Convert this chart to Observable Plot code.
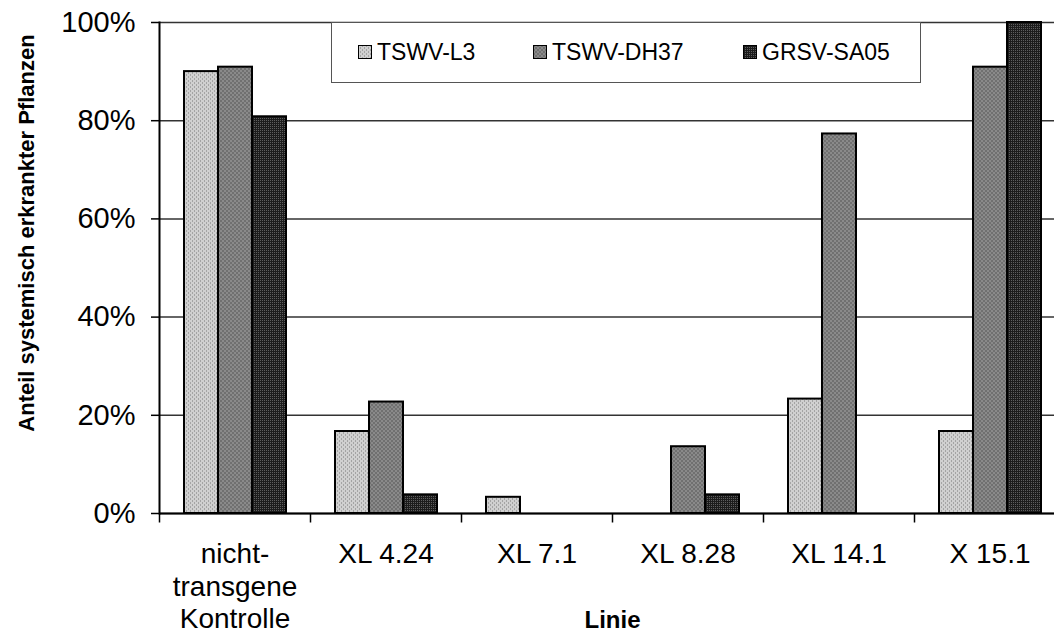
<!DOCTYPE html>
<html>
<head>
<meta charset="utf-8">
<script src="https://cdn.jsdelivr.net/npm/d3@7"></script>
<script src="https://cdn.jsdelivr.net/npm/@observablehq/plot@0.6"></script>
<style>
  body { margin: 0; background: #fff; font-family: "Liberation Sans", Arial, sans-serif; }
  #wrap { position: relative; width: 1054px; height: 635px; overflow: hidden; }
  #legend { position: absolute; left: 331px; top: 22px; width: 590px; height: 61px; box-sizing: border-box;
            border: 1.5px solid #555; background: #fff; }
  .item { position: absolute; top: 0; height: 58px; display: flex; align-items: center; font-size: 23px; color: #000; }
  .item svg { margin-right: 5px; }
</style>
</head>
<body>
<svg width="0" height="0" style="position:absolute">
  <defs>
    <pattern id="p0" width="4" height="4" patternUnits="userSpaceOnUse">
      <rect width="4" height="4" fill="#d0d0d0"/>
      <rect x="0" y="0" width="1" height="2" fill="#a4a4a4"/>
      <rect x="2" y="2" width="1" height="2" fill="#a4a4a4"/>
    </pattern>
    <pattern id="p1" width="4" height="4" patternUnits="userSpaceOnUse">
      <rect width="4" height="4" fill="#8a8a8a"/>
      <rect x="0" y="0" width="2" height="2" fill="#707070"/>
      <rect x="2" y="2" width="2" height="2" fill="#707070"/>
    </pattern>
    <pattern id="p2" width="2" height="2" patternUnits="userSpaceOnUse">
      <rect width="2" height="2" fill="#1c1c1c"/>
      <rect x="0" y="0" width="1" height="1" fill="#5e5e5e"/>
    </pattern>
  </defs>
</svg>
<div id="wrap">
  <div id="chart"></div>
  <div id="legend"></div>
</div>
<script>
const categories = ["nicht-\ntransgene\nKontrolle", "XL 4.24", "XL 7.1", "XL 8.28", "XL 14.1", "X 15.1"];
const series = ["TSWV-L3", "TSWV-DH37", "GRSV-SA05"];
const valuesL3   = [90.0, 16.7, 3.3, 0.0, 23.3, 16.7];
const valuesDH37 = [90.9, 22.7, 0.0, 13.6, 77.3, 90.9];
const valuesSA05 = [80.8, 3.8, 0.0, 3.8, 0.0, 100.0];
const yTicks = [0, 20, 40, 60, 80, 100];
const yTitle = "Anteil systemisch erkrankter Pflanzen";
const xTitle = "Linie";

const seriesValues = [valuesL3, valuesDH37, valuesSA05];
const patterns = ["url(#p0)", "url(#p1)", "url(#p2)"];
const rows = series.flatMap((s, si) => categories.map((c, ci) => ({category: c, series: s, value: seriesValues[si][ci]})));

const tickSymbol = { draw(ctx) { ctx.moveTo(0, 0); ctx.lineTo(0, 9); } };
const font = "Liberation Sans, Arial, sans-serif";

const chart = Plot.plot({
  width: 1054,
  height: 635,
  marginLeft: 159,
  marginRight: -11,
  marginTop: 22,
  marginBottom: 122,
  style: { fontFamily: font, color: "#000", background: "#fff", overflow: "hidden" },
  fx: { domain: categories, padding: 0 },
  x: { domain: series, paddingInner: 0, paddingOuter: 0.72, axis: null },
  y: { domain: [0, 100] },
  marks: [
    Plot.gridY(yTicks, { stroke: "#333", strokeOpacity: 1, strokeWidth: 1.5 }),
    ...series.map((s, i) => Plot.barY(rows.filter(r => r.series === s && r.value > 0), {
      fx: "category", x: "series", y: "value", fill: patterns[i], stroke: "#000", strokeWidth: 2
    })),
    Plot.ruleY([0], { stroke: "#000", strokeWidth: 2 }),
    Plot.frame({ anchor: "left", facetAnchor: "left", stroke: "#000", strokeWidth: 2 }),
    Plot.axisY({ ticks: yTicks, tickFormat: d => d + "%", tickSize: 8, tickPadding: 16, fontSize: 29, label: null, stroke: "#000", strokeWidth: 1.5 }),
    Plot.dot(categories, { fx: d => d, frameAnchor: "bottom-left", symbol: tickSymbol, fill: "none", stroke: "#000", strokeWidth: 1.5 }),
    Plot.text(categories, { fx: d => d, text: d => d, frameAnchor: "bottom", lineAnchor: "top", dy: 26, fontSize: 28, lineHeight: 1.17, fill: "#000" }),
    Plot.axisFx({ anchor: "bottom", tickSize: 0, tickFormat: () => "", label: xTitle, labelAnchor: "center", labelOffset: 114, fontSize: 24, fontWeight: "bold" }),
    Plot.text([yTitle], { text: d => d, frameAnchor: "left", facetAnchor: "left", textAnchor: "middle", rotate: -90, dx: -133, dy: -35, fontSize: 22, fontWeight: "bold", fill: "#000" })
  ]
});
document.getElementById("chart").appendChild(chart);

const legend = document.getElementById("legend");
const itemLeft = [26, 201, 411];
series.forEach((s, i) => {
  const el = document.createElement("div");
  el.className = "item";
  el.style.left = itemLeft[i] + "px";
  el.innerHTML = `<svg width="14" height="14"><rect x="0.5" y="0.5" width="13" height="13" fill="${patterns[i]}" stroke="#000" stroke-width="1"/></svg><span>${s}</span>`;
  legend.appendChild(el);
});
</script>
</body>
</html>
